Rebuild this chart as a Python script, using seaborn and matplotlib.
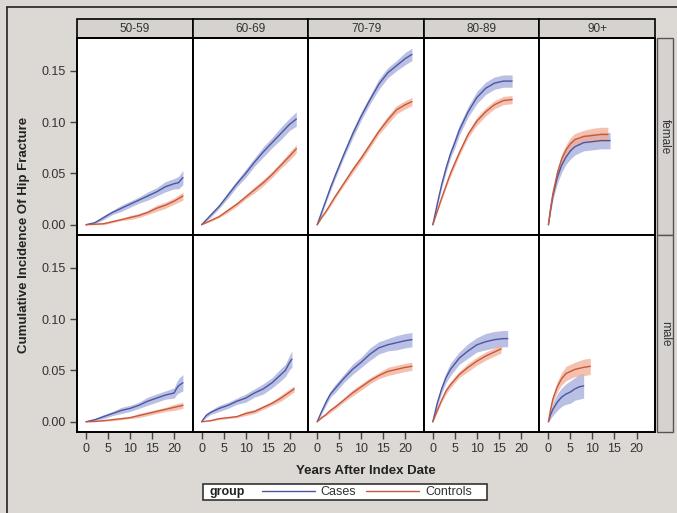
import numpy as np
import pandas as pd
import matplotlib.pyplot as plt
import seaborn as sns
from matplotlib.patches import Rectangle
from matplotlib.lines import Line2D

# ── DATA ─────────────────────────────────────────────────
AGES = ["50-59", "60-69", "70-79", "80-89", "90+"]
SEXES = ["female", "male"]
GROUPS = ["Cases", "Controls"]

# female / cases
f_cases_yr = {
    "50-59": [0, 2, 4, 6, 8, 10, 12, 14, 16, 18, 20, 21, 22],
    "60-69": [0, 2, 4, 6, 8, 10, 12, 14, 16, 18, 20, 21.5],
    "70-79": [0, 1, 2, 3, 4, 6, 8, 10, 12, 14, 16, 18, 20, 21.5],
    "80-89": [0, 1, 2, 3, 4, 5, 6, 8, 10, 12, 14, 16, 18],
    "90+":   [0, 0.5, 1, 2, 3, 4, 5, 6, 8, 10, 12, 14],
}
f_cases_est = {
    "50-59": [0, 0.002, 0.007, 0.012, 0.016, 0.020, 0.024, 0.028, 0.032, 0.037, 0.040, 0.041, 0.046],
    "60-69": [0, 0.009, 0.018, 0.029, 0.040, 0.050, 0.061, 0.071, 0.080, 0.089, 0.098, 0.103],
    "70-79": [0, 0.012, 0.024, 0.036, 0.047, 0.068, 0.088, 0.106, 0.122, 0.137, 0.148, 0.155, 0.162, 0.166],
    "80-89": [0, 0.020, 0.039, 0.055, 0.069, 0.080, 0.092, 0.110, 0.124, 0.133, 0.138, 0.140, 0.140],
    "90+":   [0, 0.015, 0.028, 0.046, 0.058, 0.066, 0.072, 0.076, 0.080, 0.081, 0.082, 0.082],
}
f_cases_hw = {
    "50-59": [0, 0.001, 0.002, 0.002, 0.003, 0.003, 0.003, 0.004, 0.004, 0.005, 0.005, 0.006, 0.007],
    "60-69": [0, 0.002, 0.002, 0.003, 0.003, 0.004, 0.004, 0.005, 0.005, 0.006, 0.006, 0.007],
    "70-79": [0, 0.002, 0.002, 0.003, 0.003, 0.003, 0.004, 0.004, 0.004, 0.005, 0.005, 0.005, 0.006, 0.006],
    "80-89": [0, 0.002, 0.003, 0.004, 0.004, 0.005, 0.005, 0.005, 0.006, 0.006, 0.006, 0.006, 0.006],
    "90+":   [0, 0.003, 0.004, 0.006, 0.007, 0.007, 0.008, 0.008, 0.008, 0.008, 0.008, 0.008],
}

# female / controls
f_ctrl_yr = {
    "50-59": [0, 2, 4, 6, 8, 10, 12, 14, 16, 18, 20, 22],
    "60-69": [0, 2, 4, 6, 8, 10, 12, 14, 16, 18, 20, 21.5],
    "70-79": [0, 1, 2, 3, 4, 6, 8, 10, 12, 14, 16, 18, 20, 21.5],
    "80-89": [0, 1, 2, 3, 4, 5, 6, 8, 10, 12, 14, 16, 18],
    "90+":   [0, 0.5, 1, 2, 3, 4, 5, 6, 8, 10, 12, 13.5],
}
f_ctrl_est = {
    "50-59": [0, 0.0005, 0.001, 0.003, 0.005, 0.007, 0.009, 0.012, 0.016, 0.019, 0.023, 0.028],
    "60-69": [0, 0.004, 0.008, 0.014, 0.020, 0.027, 0.034, 0.041, 0.049, 0.058, 0.067, 0.074],
    "70-79": [0, 0.007, 0.013, 0.020, 0.027, 0.040, 0.053, 0.065, 0.078, 0.091, 0.102, 0.112, 0.117, 0.120],
    "80-89": [0, 0.013, 0.026, 0.038, 0.050, 0.060, 0.070, 0.088, 0.101, 0.110, 0.117, 0.121, 0.122],
    "90+":   [0, 0.016, 0.030, 0.050, 0.064, 0.073, 0.079, 0.083, 0.086, 0.087, 0.088, 0.088],
}
f_ctrl_hw = {
    "50-59": [0, 0.0005, 0.001, 0.001, 0.001, 0.002, 0.002, 0.002, 0.003, 0.003, 0.003, 0.004],
    "60-69": [0, 0.001, 0.001, 0.002, 0.002, 0.002, 0.003, 0.003, 0.003, 0.003, 0.004, 0.004],
    "70-79": [0, 0.001, 0.001, 0.002, 0.002, 0.002, 0.003, 0.003, 0.003, 0.003, 0.004, 0.004, 0.004, 0.004],
    "80-89": [0, 0.001, 0.002, 0.002, 0.003, 0.003, 0.003, 0.003, 0.004, 0.004, 0.004, 0.004, 0.004],
    "90+":   [0, 0.002, 0.003, 0.004, 0.005, 0.005, 0.006, 0.006, 0.006, 0.007, 0.007, 0.007],
}

# male / cases
m_cases_yr = {
    "50-59": [0, 2, 4, 6, 8, 10, 12, 14, 16, 18, 20, 20.5, 21, 22],
    "60-69": [0, 1, 2, 4, 6, 8, 10, 12, 14, 16, 18, 19, 20, 20.5],
    "70-79": [0, 1, 2, 3, 4, 6, 8, 10, 12, 14, 16, 18, 20, 21.5],
    "80-89": [0, 1, 2, 3, 4, 6, 8, 10, 12, 14, 16, 17],
    "90+":   [0, 0.5, 1, 2, 3, 4, 5, 6, 7, 8],
}
m_cases_est = {
    "50-59": [0, 0.002, 0.005, 0.008, 0.011, 0.013, 0.016, 0.020, 0.023, 0.026, 0.028, 0.032, 0.035, 0.038],
    "60-69": [0, 0.006, 0.009, 0.013, 0.016, 0.020, 0.023, 0.028, 0.032, 0.038, 0.046, 0.050, 0.058, 0.061],
    "70-79": [0, 0.010, 0.019, 0.027, 0.032, 0.042, 0.051, 0.058, 0.066, 0.072, 0.075, 0.077, 0.079, 0.080],
    "80-89": [0, 0.018, 0.032, 0.043, 0.051, 0.062, 0.069, 0.075, 0.078, 0.080, 0.081, 0.081],
    "90+":   [0, 0.007, 0.012, 0.019, 0.024, 0.027, 0.029, 0.032, 0.034, 0.035],
}
m_cases_hw = {
    "50-59": [0, 0.001, 0.002, 0.002, 0.003, 0.003, 0.003, 0.004, 0.004, 0.004, 0.005, 0.006, 0.007, 0.008],
    "60-69": [0, 0.002, 0.002, 0.003, 0.003, 0.003, 0.004, 0.004, 0.005, 0.005, 0.006, 0.006, 0.007, 0.008],
    "70-79": [0, 0.002, 0.003, 0.003, 0.004, 0.004, 0.005, 0.005, 0.006, 0.006, 0.006, 0.007, 0.007, 0.007],
    "80-89": [0, 0.003, 0.004, 0.005, 0.006, 0.006, 0.007, 0.007, 0.008, 0.008, 0.008, 0.008],
    "90+":   [0, 0.004, 0.006, 0.008, 0.009, 0.010, 0.011, 0.011, 0.012, 0.012],
}

# male / controls
m_ctrl_yr = {
    "50-59": [0, 2, 4, 6, 8, 10, 12, 14, 16, 18, 20, 22],
    "60-69": [0, 2, 4, 6, 8, 10, 12, 14, 16, 18, 20, 21],
    "70-79": [0, 1, 2, 3, 4, 6, 8, 10, 12, 14, 16, 18, 20, 21.5],
    "80-89": [0, 1, 2, 3, 4, 6, 8, 10, 12, 14, 15.5],
    "90+":   [0, 0.5, 1, 2, 3, 4, 5, 6, 8, 9.5],
}
m_ctrl_est = {
    "50-59": [0, 0.0003, 0.001, 0.002, 0.003, 0.004, 0.006, 0.008, 0.010, 0.012, 0.014, 0.016],
    "60-69": [0, 0.001, 0.003, 0.004, 0.005, 0.008, 0.010, 0.014, 0.018, 0.023, 0.029, 0.032],
    "70-79": [0, 0.004, 0.007, 0.011, 0.014, 0.021, 0.028, 0.034, 0.040, 0.045, 0.049, 0.051, 0.053, 0.054],
    "80-89": [0, 0.011, 0.021, 0.030, 0.036, 0.046, 0.053, 0.059, 0.064, 0.068, 0.071],
    "90+":   [0, 0.012, 0.022, 0.034, 0.042, 0.047, 0.049, 0.051, 0.053, 0.054],
}
m_ctrl_hw = {
    "50-59": [0, 0.0003, 0.0005, 0.001, 0.001, 0.001, 0.002, 0.002, 0.002, 0.002, 0.003, 0.003],
    "60-69": [0, 0.0005, 0.001, 0.001, 0.001, 0.002, 0.002, 0.002, 0.002, 0.003, 0.003, 0.003],
    "70-79": [0, 0.001, 0.001, 0.002, 0.002, 0.002, 0.003, 0.003, 0.003, 0.003, 0.004, 0.004, 0.004, 0.004],
    "80-89": [0, 0.002, 0.002, 0.003, 0.003, 0.003, 0.004, 0.004, 0.004, 0.004, 0.004],
    "90+":   [0, 0.003, 0.004, 0.005, 0.006, 0.007, 0.007, 0.007, 0.008, 0.008],
}

# ── LONG TABLE ───────────────────────────────────────────
rows = []
sources = [
    ("female", "Cases", f_cases_yr, f_cases_est, f_cases_hw),
    ("female", "Controls", f_ctrl_yr, f_ctrl_est, f_ctrl_hw),
    ("male", "Cases", m_cases_yr, m_cases_est, m_cases_hw),
    ("male", "Controls", m_ctrl_yr, m_ctrl_est, m_ctrl_hw),
]
for sex, group, yrs, ests, hws in sources:
    for age in AGES:
        for t, e, h in zip(yrs[age], ests[age], hws[age]):
            rows.append({"sex": sex, "age": age, "group": group,
                         "year": t, "est": e, "lo": e - h, "hi": e + h})
df = pd.DataFrame(rows)

# ── STYLE ────────────────────────────────────────────────
BG = "#dcd8d4"
STRIP = "#d6d2cf"
line_col = {"Cases": "#4b56a3", "Controls": "#c9583b"}
band_col = {"Cases": "#a3abdb", "Controls": "#f1ad94"}

sns.set_style("white")
plt.rcParams["font.family"] = ["Liberation Sans", "DejaVu Sans"]


def draw_panel(data, **kws):
    ax = plt.gca()
    for g in GROUPS:
        sub = data[data["group"] == g]
        if sub.empty:
            continue
        ax.fill_between(sub["year"], sub["lo"], sub["hi"],
                        color=band_col[g], alpha=0.75, lw=0)
    sns.lineplot(data=data, x="year", y="est", hue="group",
                 hue_order=GROUPS, palette=line_col, lw=1.0,
                 legend=False, ax=ax, errorbar=None)


g = sns.FacetGrid(df, row="sex", col="age", row_order=SEXES,
                  col_order=AGES, sharex=True, sharey=True,
                  despine=False, height=2, aspect=0.6)
g.map_dataframe(draw_panel)

fig = g.figure
fig.set_size_inches(6.77, 5.13)
fig.set_dpi(100)
fig.patch.set_facecolor(BG)
fig.subplots_adjust(left=77 / 677, right=655 / 677, top=1 - 38 / 513,
                    bottom=1 - 432 / 513, wspace=0, hspace=0)

g.set(xlim=(-2.05, 24.2), ylim=(-0.010, 0.182),
      xticks=[0, 5, 10, 15, 20], yticks=[0, 0.05, 0.10, 0.15])
g.set_titles("")
g.set_axis_labels("", "")

panel_h = 432 - 38
for i, sex in enumerate(SEXES):
    for j, age in enumerate(AGES):
        ax = g.axes[i, j]
        ax.set_facecolor("white")
        for sp in ax.spines.values():
            sp.set_color("black")
            sp.set_linewidth(1.4)
        ax.tick_params(axis="both", direction="out", length=5, width=1,
                       color="#444444", labelsize=9, labelcolor="#333333",
                       pad=3)
        ax.tick_params(axis="y", left=(j == 0), labelleft=(j == 0))
        ax.tick_params(axis="x", bottom=(i == 1), labelbottom=(i == 1))
        if j == 0:
            ax.set_yticklabels(["0.00", "0.05", "0.10", "0.15"])
        # column header strip
        if i == 0:
            hh = 19 / (panel_h / 2)
            ax.add_patch(Rectangle((0, 1), 1, hh, transform=ax.transAxes,
                                   facecolor=STRIP, edgecolor="black",
                                   lw=1.2, clip_on=False))
            ax.text(0.5, 1 + hh / 2, age, transform=ax.transAxes,
                    ha="center", va="center", fontsize=8.5, color="#333333")
        # row strip on the right
        if j == len(AGES) - 1:
            pw = (655 - 77) / 5
            ax.add_patch(Rectangle((1 + 2 / pw, 0), 16 / pw, 1,
                                   transform=ax.transAxes, facecolor=STRIP,
                                   edgecolor="#555555", lw=1.0,
                                   clip_on=False))
            ax.text(1 + 10 / pw, 0.5, sex, transform=ax.transAxes,
                    rotation=-90, ha="center", va="center", fontsize=8.5,
                    color="#333333")

fig.text(366 / 677, 1 - 471 / 513, "Years After Index Date",
         ha="center", va="center", fontsize=9.5, fontweight="bold",
         color="#222222")
fig.text(24 / 677, 1 - 235 / 513, "Cumulative Incidence Of Hip Fracture",
         ha="center", va="center", rotation=90, fontsize=9.5,
         fontweight="bold", color="#222222")

# legend box
fig.patches.append(Rectangle((203 / 677, 1 - 500 / 513), 284 / 677, 16 / 513,
                             transform=fig.transFigure, facecolor="white",
                             edgecolor="#333333", lw=1.2))
fig.text(209 / 677, 1 - 492 / 513, "group", ha="left", va="center",
         fontsize=9, fontweight="bold", color="#222222")
handles = [Line2D([], [], color=line_col[k], lw=1.0) for k in GROUPS]
fig.legend(handles, GROUPS, loc="center left",
           bbox_to_anchor=(262 / 677, 1 - 492 / 513), ncol=2, frameon=False,
           fontsize=9, handlelength=4.2, handletextpad=0.5,
           columnspacing=0.8, borderpad=0, borderaxespad=0,
           labelcolor="#333333")

# outer frame lines (left / top)
fig.add_artist(Line2D([7 / 677, 7 / 677], [0, 1 - 7 / 513],
                      transform=fig.transFigure, color="#222222", lw=1.2))
fig.add_artist(Line2D([7 / 677, 1], [1 - 7 / 513, 1 - 7 / 513],
                      transform=fig.transFigure, color="#222222", lw=1.2))

fig.savefig("out.png", dpi=100, facecolor=BG)
